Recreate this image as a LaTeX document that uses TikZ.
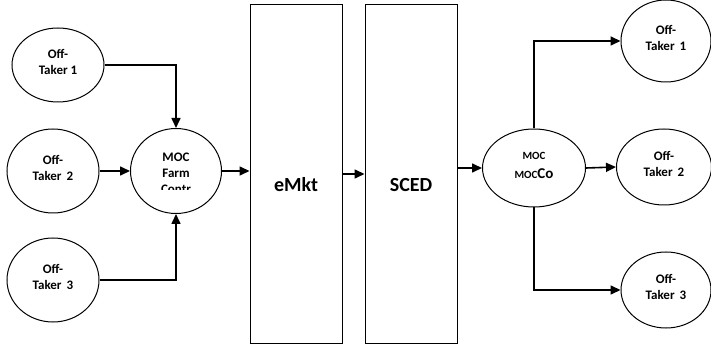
\documentclass[tikz,border=0pt]{standalone}
\usepackage{fontspec}
\setmainfont{Carlito}
\usetikzlibrary{shapes.geometric,arrows.meta}
\begin{document}
\begin{tikzpicture}[x=1pt,y=1pt,
  taker/.style={draw, ellipse, line width=1pt, minimum width=92pt, minimum height=80pt,
    inner sep=0pt, text depth=6pt, align=center, font=\fontsize{13}{16}\selectfont\bfseries},
  stage/.style={draw, rectangle, line width=1pt, minimum width=92pt, minimum height=338pt},
  flow/.style={line width=1.6pt, -{Triangle[length=10pt,width=9pt]}}]
\useasboundingbox (0,0) rectangle (711,345);
% supply side
\node[taker, minimum height=74pt] (in1) at (58,280) {Off-\\Taker 1};
\node[taker, minimum height=84pt] (in2) at (53,174) {Off-\\Taker\ \,2};
\node[taker, minimum height=84pt] (in3) at (53,65) {Off-\\Taker\ \,3};
\node[taker, minimum width=91pt, minimum height=85pt, text depth=12pt] (farm) at (176,174) {MOC\\Farm};
\begin{scope}
  \clip (130,155) rectangle (222,175);
  \node[font=\fontsize{13}{16}\selectfont\bfseries] (farmcut) at (176,156) {Contr};
\end{scope}
% market stages
\node[stage, label={[font=\fontsize{20}{22}\selectfont\bfseries, yshift=-11pt]center:eMkt}] (emkt) at (296,171) {};
\node[stage, label={[font=\fontsize{20}{22}\selectfont\bfseries, yshift=-11pt]center:SCED}] (sced) at (411,171) {};
% demand side
\node[taker, minimum width=103pt, minimum height=78pt, font=\fontsize{11}{19}\selectfont\bfseries] (moc) at (534,177)
  {MOC\\MOC{\fontsize{15}{19}\selectfont Co}};
\node[taker, minimum width=90pt, minimum height=82pt] (out1) at (666,304) {Off-\\Taker\ \,1};
\node[taker, minimum width=95pt, minimum height=76pt] (out2) at (664,178) {Off-\\Taker\ \,2};
\node[taker, minimum width=90pt, minimum height=76pt] (out3) at (666,55) {Off-\\Taker\ \,3};
% connectors
\draw[flow] (in1.east) -| (farm.north);
\draw[flow] (in2.east |- farm.west) -- (farm.west);
\draw[flow] (in3.east) -| (farm.south);
\draw[flow] (farm.east) -- (emkt.west |- farm.east);
\draw[flow] (emkt.east) -- (sced.west);
\draw[flow] (sced.east |- moc.west) -- (moc.west);
\draw[flow] (moc.north) |- (out1.west);
\draw[flow] (moc.east) -- (out2.west);
\draw[flow] (moc.south) |- (out3.west);
\end{tikzpicture}
\end{document}
